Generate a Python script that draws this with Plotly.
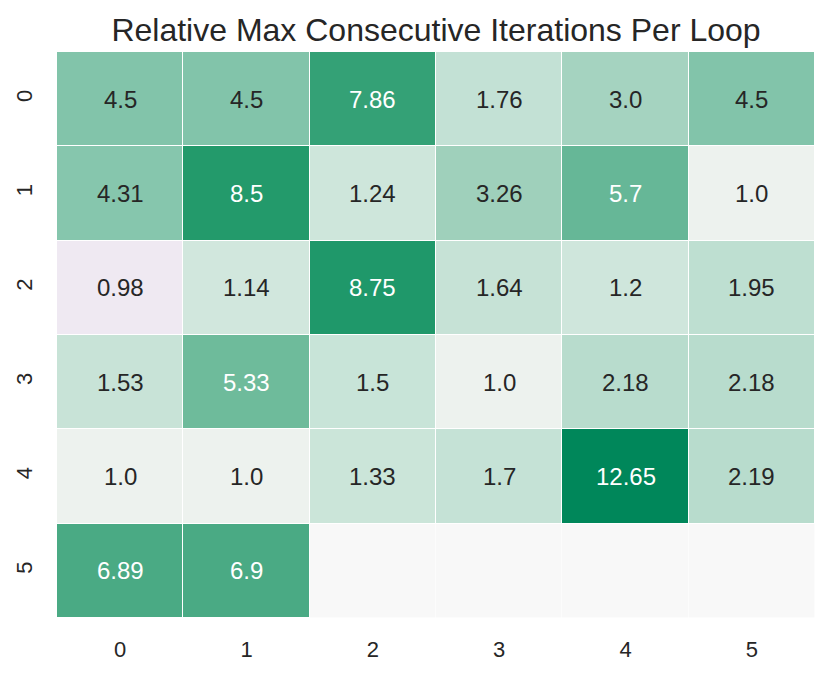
import plotly.graph_objects as go

# heatmap values, rows top to bottom (None = empty cell)
row_labels = ['0', '1', '2', '3', '4', '5']
col_labels = ['0', '1', '2', '3', '4', '5']
row_0 = [4.5, 4.5, 7.86, 1.76, 3.0, 4.5]
row_1 = [4.31, 8.5, 1.24, 3.26, 5.7, 1.0]
row_2 = [0.98, 1.14, 8.75, 1.64, 1.2, 1.95]
row_3 = [1.53, 5.33, 1.5, 1.0, 2.18, 2.18]
row_4 = [1.0, 1.0, 1.33, 1.7, 12.65, 2.19]
row_5 = [6.89, 6.9, None, None, None, None]
z = [row_0, row_1, row_2, row_3, row_4, row_5]

zmin = 0.98
zmax = 12.65

# colour anchors (value, colour)
anchors = [
    (0.98, '#efe9f2'), (1.0, '#edf2ee'), (1.14, '#d1e7dd'), (1.33, '#cbe5d9'),
    (1.7, '#c5e2d6'), (2.18, '#b8dccd'), (3.0, '#a5d3c0'), (3.26, '#9fd0bb'),
    (4.5, '#82c4aa'), (5.33, '#6ebb9b'), (5.7, '#66b797'), (6.89, '#4aaa84'),
    (7.86, '#34a176'), (8.5, '#239a6b'), (8.75, '#1f986a'), (12.65, '#00875a'),
]
colorscale = [[(v - zmin) / (zmax - zmin), c] for v, c in anchors]

# mask for the empty cells
mask = [[1 if v is None else None for v in row] for row in z]

fig = go.Figure()
fig.add_trace(go.Heatmap(
    z=mask, x=col_labels, y=row_labels,
    colorscale=[[0, '#f8f8f8'], [1, '#f8f8f8']],
    showscale=False, xgap=0.6, ygap=0.6, hoverinfo='skip'
))
fig.add_trace(go.Heatmap(
    z=z, x=col_labels, y=row_labels,
    colorscale=colorscale, zmin=zmin, zmax=zmax,
    showscale=False, xgap=1, ygap=1
))

# cell labels, white on the darker cells
for i, row in enumerate(z):
    for j, v in enumerate(row):
        if v is None:
            continue
        fig.add_annotation(
            x=col_labels[j], y=row_labels[i], text=str(v), showarrow=False,
            font=dict(size=24, color='white' if v >= 5 else '#262626')
        )

# page body has an 8px margin, so the figure is a bit smaller than the window
fig.update_layout(
    width=823, height=665,
    margin=dict(l=49, r=16, t=44, b=55),
    paper_bgcolor='white', plot_bgcolor='white',
    font=dict(family='Liberation Sans, Arial, sans-serif', color='#262626'),
    title=dict(
        text='Relative Max Consecutive Iterations Per Loop',
        x=0.5, xref='paper', xanchor='center',
        y=1 - 22 / 665, yref='container', yanchor='middle',
        font=dict(size=32, color='#262626')
    ),
    xaxis=dict(
        showgrid=False, zeroline=False, ticks='', ticklabelstandoff=16,
        tickfont=dict(size=22), automargin=False
    ),
    yaxis=dict(
        autorange='reversed', showgrid=False, zeroline=False, ticks='',
        tickangle=-90, ticklabelstandoff=20, tickfont=dict(size=22),
        automargin=False
    )
)

fig.write_html("out.html")
